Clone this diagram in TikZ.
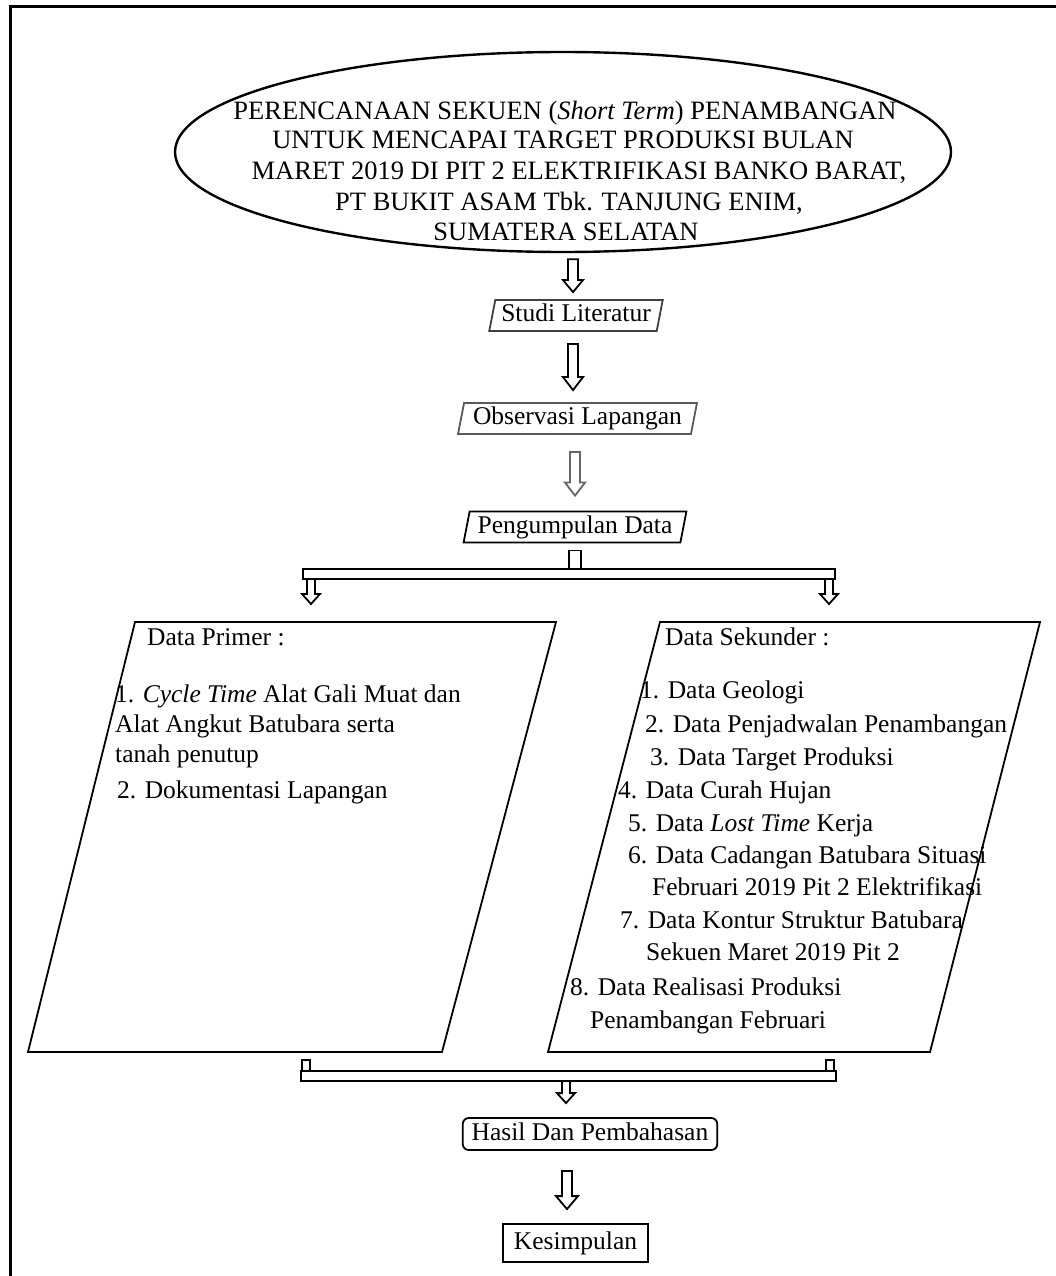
\documentclass[tikz,border=0pt]{standalone}
\usepackage{fontspec}
\setmainfont{Liberation Serif}
\usetikzlibrary{shapes.geometric,calc}
\tikzset{
  txt/.style={inner sep=0pt, font=\fontsize{25.5}{30}\selectfont},
  ttl/.style={inner sep=0pt, font=\fontsize{26.5}{30}\selectfont},
  para/.style={trapezium, trapezium left angle=79, trapezium right angle=101,
    draw, line width=1.8pt, text height=18pt, text depth=6pt, inner ysep=3.5pt,
    font=\fontsize{25.5}{30}\selectfont},
  bigpara/.style={draw, line width=1.8pt, line join=miter},
  hollow/.style={draw, line width=1.8pt, fill=white, line join=miter},
  boxnode/.style={draw, line width=1.8pt, text height=18pt, text depth=6pt,
    font=\fontsize{25.5}{30}\selectfont},
}
\newcommand\hollowdown[6]{%
  \draw[#1] let \p1=(#2), \p2=(#3) in
    (\x1-#4,\y1) -- (\x1-#4,\y2+#6) -- (\x1-#5,\y2+#6) -- (\x1,\y2)
    -- (\x1+#5,\y2+#6) -- (\x1+#4,\y2+#6) -- (\x1+#4,\y1) -- cycle;}
\begin{document}
\begin{tikzpicture}[x=1pt,y=-1pt]
\useasboundingbox (0,0) rectangle (1056,1276);
% outer frame (runs off the page on the right and bottom)
\draw[line width=3pt] (10,1300) -- (10,7) -- (1080,7);

% title ellipse
\node[ellipse, draw, line width=2.4pt, minimum width=776pt, minimum height=200pt, inner sep=0pt] (title) at (563,152) {};
\node[ttl, anchor=base] (t1) at (565,120) {PERENCANAAN SEKUEN (\textit{Short Term}) PENAMBANGAN};
\node[ttl, anchor=base] (t2) at (563,149) {UNTUK MENCAPAI TARGET PRODUKSI BULAN};
\node[ttl, anchor=base] (t3) at (579,180) {MARET 2019 DI PIT 2 ELEKTRIFIKASI BANKO BARAT,};
\node[ttl, anchor=base] (t4) at (569,211) {PT BUKIT ASAM Tbk. TANJUNG ENIM,};
\node[ttl, anchor=base] (t5) at (566,240) {SUMATERA SELATAN};

% small steps
\node[para, draw=black!75, inner xsep=6pt] (studi) at (576,315.5) {Studi Literatur};
\node[para, draw=black!65, inner xsep=9pt] (obs) at (577.5,418.5) {Observasi Lapangan};
\node[para, inner xsep=8pt] (kumpul) at (575,527) {Pengumpulan Data};

% arrows between steps
\hollowdown{hollow}{$(title.south)+(10,6)$}{$(studi.north)+(-3,-7)$}{5pt}{10pt}{12pt}
\hollowdown{hollow}{$(studi.south)+(-3,12)$}{$(obs.north)+(-4.5,-12)$}{5pt}{10pt}{13pt}
\hollowdown{hollow, draw=black!60}{$(obs.south)+(-2.5,17)$}{$(kumpul.north)+(0,-15)$}{5pt}{10pt}{13pt}

% split connector
\coordinate (splitL) at (303,569);
\coordinate (splitR) at (835,579);
\draw[hollow] ($(kumpul.south)+(-6,7)$) rectangle ($(kumpul.south)+(6,29)$);
\draw[hollow] (splitL) rectangle (splitR);

% big parallelograms
\coordinate (pTL) at (135,622);
\coordinate (pTR) at (556,622);
\coordinate (pBR) at (442,1052);
\coordinate (pBL) at (28,1052);
\draw[bigpara] (pTL) -- (pTR) -- (pBR) -- (pBL) -- cycle;
\coordinate (sTL) at (660,622);
\coordinate (sTR) at (1040,622);
\coordinate (sBR) at (930,1052);
\coordinate (sBL) at (548,1052);
\draw[bigpara] (sTL) -- (sTR) -- (sBR) -- (sBL) -- cycle;

\coordinate (primerTop) at (311,622);
\coordinate (sekTop) at (829,622);
\hollowdown{hollow}{$(splitL|-splitR)+(8,0)$}{$(primerTop)+(0,-18)$}{4pt}{9pt}{10pt}
\hollowdown{hollow}{$(splitR)+(-6,0)$}{$(sekTop)+(0,-18)$}{4pt}{9pt}{10pt}

% primary data text
\node[txt, anchor=base west] (p0) at (147,645) {Data Primer :};
\node[txt, anchor=base west] (p1) at (115,702) {1. \textit{Cycle Time} Alat Gali Muat dan};
\node[txt, anchor=base west] (p2) at (115,732) {Alat Angkut Batubara serta};
\node[txt, anchor=base west] (p3) at (115,762) {tanah penutup};
\node[txt, anchor=base west] (p4) at (117,798) {2. Dokumentasi Lapangan};

% secondary data text
\node[txt, anchor=base west] (s0) at (665,645) {Data Sekunder :};
\node[txt, anchor=base west] (s1) at (640,698) {1. Data Geologi};
\node[txt, anchor=base west] (s2) at (645,732) {2. Data Penjadwalan Penambangan};
\node[txt, anchor=base west] (s3) at (650,765) {3. Data Target Produksi};
\node[txt, anchor=base west] (s4) at (618,798) {4. Data Curah Hujan};
\node[txt, anchor=base west] (s5) at (628,831) {5. Data \textit{Lost Time} Kerja};
\node[txt, anchor=base west] (s6) at (628,863) {6. Data Cadangan Batubara Situasi};
\node[txt, anchor=base west] (s6b) at (652,895) {Februari 2019 Pit 2 Elektrifikasi};
\node[txt, anchor=base west] (s7) at (620,928) {7. Data Kontur Struktur Batubara};
\node[txt, anchor=base west] (s7b) at (646,960) {Sekuen Maret 2019 Pit 2};
\node[txt, anchor=base west] (s8) at (570,995) {8. Data Realisasi Produksi};
\node[txt, anchor=base west] (s8b) at (590,1028) {Penambangan Februari};

% merge connector
\coordinate (mergeL) at (301,1071);
\coordinate (mergeR) at (836,1081);
\draw[hollow] (302,1060) rectangle (310,1071);
\draw[hollow] (826,1060) rectangle (834,1071);
\draw[hollow] (mergeL) rectangle (mergeR);

% results and conclusion
\node[boxnode, rounded corners=6pt, inner xsep=9pt, inner ysep=4pt] (hasil) at (590,1134) {Hasil Dan Pembahasan};
\node[boxnode, inner xsep=11pt, inner ysep=7pt] (kes) at (575.5,1243) {Kesimpulan};

\coordinate (mergeMid) at (566,1081);
\hollowdown{hollow}{mergeMid}{$(hasil.north)+(-24,-14)$}{4pt}{9pt}{10pt}
\hollowdown{hollow}{$(hasil.south)+(-23,20)$}{$(kes.north)+(-8.5,-14)$}{5pt}{11pt}{13pt}
\end{tikzpicture}
\end{document}
